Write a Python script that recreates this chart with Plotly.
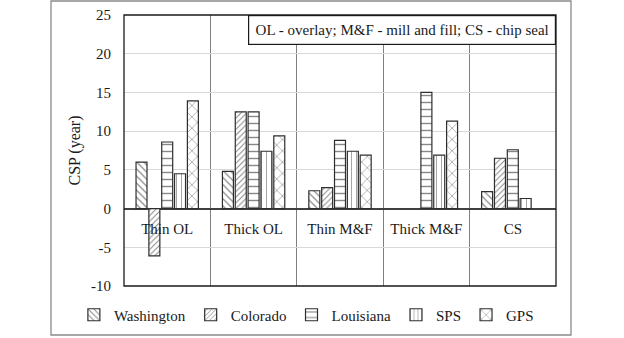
import plotly.graph_objects as go

# Treatment categories and critical service period (years) per data source
categories = ["Thin OL", "Thick OL", "Thin M&F", "Thick M&F", "CS"]
washington = [6.0, 4.8, 2.3, None, 2.2]
colorado = [-6.1, 12.5, 2.7, None, 6.5]
louisiana = [8.6, 12.5, 8.8, 15.0, 7.6]
sps = [4.5, 7.4, 7.4, 6.9, 1.3]
gps = [13.9, 9.4, 6.9, 11.3, None]

y_ticks = [-10, -5, 0, 5, 10, 15, 20, 25]
y_tick_text = ["-10", "-5", "0", "5", "10", "15", "20", "25"]
note_text = "OL - overlay; M&F - mill and fill; CS - chip seal"

FONT = "Liberation Serif, Times New Roman, serif"
INK = "#1a1a1a"

series = [
    ("Washington", washington, "\\", 5, 0.25),
    ("Colorado", colorado, "/", 4, 0.25),
    ("Louisiana", louisiana, "-", 7, 0.2),
    ("SPS", sps, "|", 5, 0.15),
    ("GPS", gps, "x", 8, 0.15),
]

fig = go.Figure()
for name, vals, shape, size, solid in series:
    fig.add_trace(go.Bar(
        name=name,
        x=categories,
        y=vals,
        marker=dict(
            color="white",
            line=dict(color="#2e2e2e", width=1.2),
            pattern=dict(shape=shape, size=size, solidity=solid,
                         fgcolor="#111111", bgcolor="white", fillmode="overlay"),
        ),
    ))

fig.update_layout(
    width=624,
    height=338,
    margin=dict(l=124, r=68, t=15, b=52, autoexpand=False),
    paper_bgcolor="white",
    plot_bgcolor="white",
    barmode="group",
    bargap=0.257,
    bargroupgap=0.145,
    font=dict(family=FONT, size=15, color=INK),
    showlegend=True,
    legend=dict(
        orientation="h",
        x=-0.116, xanchor="left",
        y=-0.107, yanchor="middle",
        bgcolor="rgba(0,0,0,0)",
        font=dict(family=FONT, size=15, color=INK),
        itemwidth=30,
        traceorder="normal",
    ),
    xaxis=dict(
        type="category",
        anchor="free",
        position=10 / 35,
        tickson="boundaries",
        showgrid=True,
        gridcolor="#7f7f7f",
        gridwidth=1.3,
        ticks="",
        showline=False,
        zeroline=False,
        tickfont=dict(family=FONT, size=15, color=INK),
        ticklabelstandoff=9,
    ),
    yaxis=dict(
        range=[-10, 25],
        tickvals=y_ticks,
        ticktext=y_tick_text,
        showgrid=True,
        gridcolor="#d9d9d9",
        gridwidth=1,
        zeroline=True,
        zerolinecolor="#404040",
        zerolinewidth=1.5,
        showline=False,
        ticks="",
        ticklabelstandoff=12,
        tickfont=dict(family=FONT, size=15, color=INK),
        title=dict(text="CSP (year)", font=dict(family=FONT, size=16, color=INK), standoff=6),
    ),
    shapes=[
        # plot frame
        dict(type="rect", xref="paper", yref="paper", x0=0, x1=1, y0=0, y1=1,
             line=dict(color="#1a1a1a", width=1.3), layer="above"),
        # outer chart border
        dict(type="rect", xref="paper", yref="paper",
             x0=-0.169, x1=1.0347, y0=-0.1808, y1=1.0517,
             line=dict(color="#8a8a8a", width=1.3)),
    ],
    annotations=[
        dict(text=note_text, xref="paper", yref="paper", x=1, y=1,
             xanchor="right", yanchor="top", showarrow=False,
             width=296, height=18, borderpad=5,
             bordercolor="#1a1a1a", borderwidth=1.2, bgcolor="white",
             font=dict(family=FONT, size=15, color=INK)),
    ],
)

fig.write_html("out.html")
